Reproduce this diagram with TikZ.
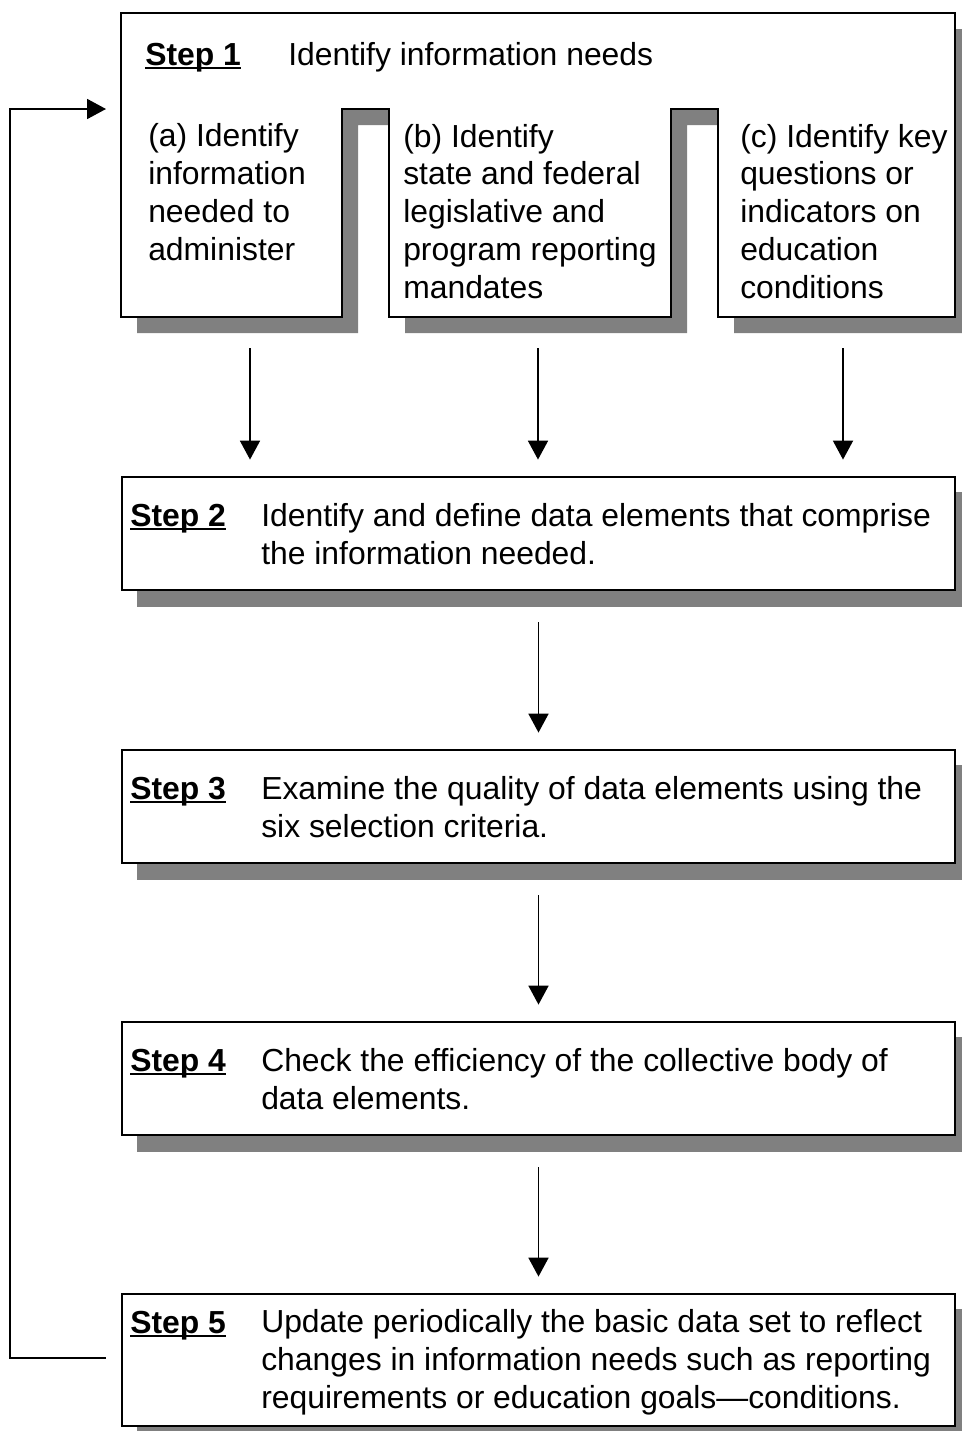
\documentclass[tikz,border=0pt]{standalone}
\usepackage{fontspec}
\setmainfont{Liberation Sans}
\usetikzlibrary{arrows.meta,calc,backgrounds}

\definecolor{shadowgray}{RGB}{128,128,128}
\newcommand{\steplabel}[1]{\setbox0\hbox{\bfseries #1}\rlap{\rule[-3pt]{\wd0}{1.5pt}}\box0}

\tikzset{
  stepbox/.style={draw, line width=2.1pt, fill=white, minimum width=624.75pt, inner sep=0pt},
  flow/.style={line width=1.4pt, -{Triangle[length=14.25pt,width=15pt]}},
  txt/.style={anchor=base west, inner sep=0pt, align=left, font=\fontsize{23.9}{28.3}\selectfont},
}

\begin{document}
\begin{tikzpicture}[x=0.75pt,y=0.75pt,yscale=-1,xscale=1]
\useasboundingbox (0,0) rectangle (961,1431);

% step 1 and its three parts
\fill [shadowgray, shift={(16,16)}] (121,13) -- (955,13) -- (955,317) -- (718,317) -- (718,109) -- (671,109) -- (671,317) -- (389,317) -- (389,109) -- (342,109) -- (342,317) -- (121,317) -- cycle;
\draw [line width=2.1pt, fill=white] (121,13) -- (955,13) -- (955,317) -- (718,317) -- (718,109) -- (671,109) -- (671,317) -- (389,317) -- (389,109) -- (342,109) -- (342,317) -- (121,317) -- cycle;

% base anchor sits on the last line
\node[txt] (s1lbl) at (145,65) {\steplabel{Step 1}};
\node[txt] (s1txt) at (288,65) {Identify information needs};
\node[txt] (suba) at (148,260) {(a) Identify\\information\\needed to\\administer};
\node[txt] (subb) at (403,298) {(b) Identify\\state and federal\\legislative and\\program reporting\\mandates};
\node[txt] (subc) at (740,298) {(c) Identify key\\questions or\\indicators on\\education\\conditions};
\coordinate (s1in) at (121,109);
\coordinate (aout) at (250,348);
\coordinate (bout) at (538,348);
\coordinate (cout) at (843,348);

% steps 2 to 5
\node[stepbox, minimum height=84.75pt] (s2) at (538.5,533.5) {};
\node[stepbox, minimum height=84.75pt] (s3) at (538.5,806.5) {};
\node[stepbox, minimum height=84.75pt] (s4) at (538.5,1078.5) {};
\node[stepbox, minimum height=99pt] (s5) at (538.5,1360) {};

\begin{scope}[on background layer]
  \foreach \b in {s2,s3,s4,s5}
    \fill [shadowgray] ($(\b.south west)+(16,16)$) rectangle ($(\b.north east)+(16,16)$);
\end{scope}

\node[txt] (s2lbl) at (130,526) {\steplabel{Step 2}};
\node[txt] (s2txt) at (261,564) {Identify and define data elements that comprise\\the information needed.};
\node[txt] (s3lbl) at (130,799) {\steplabel{Step 3}};
\node[txt] (s3txt) at (261,837) {Examine the quality of data elements using the\\six selection criteria.};
\node[txt] (s4lbl) at (130,1071) {\steplabel{Step 4}};
\node[txt] (s4txt) at (261,1109) {Check the efficiency of the collective body of\\data elements.};
\node[txt] (s5lbl) at (130,1333) {\steplabel{Step 5}};
\node[txt] (s5txt) at (261,1408) {Update periodically the basic data set to reflect\\changes in information needs such as reporting\\requirements or education goals—conditions.};

% arrows
\foreach \c in {aout,bout,cout}
  \draw[flow] (\c) -- ($(\c |- s2.north)+(0,-16)$);
\draw[flow] ($(s2.south)+(0,31)$) -- ($(s3.north)+(0,-16)$);
\draw[flow] ($(s3.south)+(0,31)$) -- ($(s4.north)+(0,-16)$);
\draw[flow] ($(s4.south)+(0,31)$) -- ($(s5.north)+(0,-16)$);
\draw[flow] ($(s5.west)+(-15,-2)$) -- ++(-96,0) |- ($(s1in)+(-15,0)$);
\end{tikzpicture}
\end{document}
